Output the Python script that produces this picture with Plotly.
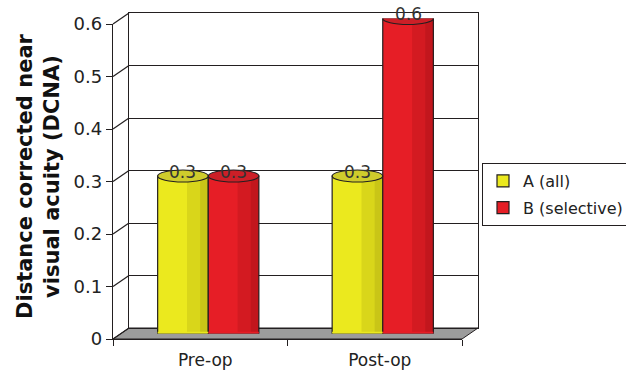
import plotly.graph_objects as go

# ---- data ----
categories = ["Pre-op", "Post-op"]
series_names = ["A (all)", "B (selective)"]
values_a = [0.3, 0.3]
values_b = [0.3, 0.6]
y_ticks = [0, 0.1, 0.2, 0.3, 0.4, 0.5, 0.6]

# ---- styling ----
body_colors = ["#EBE91E", "#E61E26"]
top_colors = ["#CFCC2C", "#CC1F27"]
shade_colors = ["rgba(70,60,0,0.11)", "rgba(70,0,0,0.12)"]
ink = "#231F20"
floor_color = "#9C9C9C"
FONT = "DejaVu Sans"

# ---- geometry of the pseudo-3D box (pixels) ----
W, H = 626, 373
ML, MR, MT, MB = 113, 148, 13, 34
PW = W - ML - MR          # plot area width
PH = H - MT - MB          # plot area height
DX, DY = 16, 11           # depth offset of the back wall
YMAX = y_ticks[-1]
FACE_H = PH - DY          # height of a face in px
PX_PER_UNIT = FACE_H / YMAX


def fx(px):
    return px / PW


def fy(px):
    return px / PH


front_x = [0, fx(PW - DX)]
front_y = [0, fy(PH - DY)]
mid_x = [fx(DX / 2), fx(PW - DX / 2)]
mid_y = [fy(DY / 2), fy(PH - DY / 2)]
back_x = [fx(DX), 1]
back_y = [fy(DY), 1]

n_cat = len(categories)
xrange_ = [-0.5, n_cat - 0.5]
bar_w = 0.29
offsets = [-bar_w, 0.0]
ry = 6 / PX_PER_UNIT      # vertical radius of cylinder ellipses
all_values = [values_a, values_b]

fig = go.Figure()

# empty traces so the back-wall and front-frame subplots get drawn
for xa, ya in (("x", "y"), ("x3", "y3")):
    fig.add_trace(go.Scatter(x=[None], y=[None], xaxis=xa, yaxis=ya,
                             showlegend=False, hoverinfo="skip",
                             mode="markers"))

# cylinder bodies
for s, (name, vals) in enumerate(zip(series_names, all_values)):
    fig.add_trace(go.Bar(
        x=list(range(n_cat)), y=vals, name=name, legendgroup=name,
        width=[bar_w] * n_cat, offset=[offsets[s]] * n_cat,
        marker=dict(color=body_colors[s], line=dict(color=ink, width=1.2)),
        xaxis="x2", yaxis="y2", hoverinfo="skip",
    ))

# darker right-hand shading of each cylinder
for s, vals in enumerate(all_values):
    for frac in (0.42, 0.16):
        fig.add_trace(go.Bar(
            x=list(range(n_cat)), y=vals, showlegend=False,
            width=[bar_w * frac] * n_cat,
            offset=[offsets[s] + bar_w * (1 - frac)] * n_cat,
            marker=dict(color=shade_colors[s], line=dict(width=0)),
            xaxis="x2", yaxis="y2", hoverinfo="skip",
        ))

shapes = []

# floor
shapes.append(dict(
    type="path", xref="paper", yref="paper", layer="below",
    path=(f"M {front_x[0]},{front_y[0]} L {front_x[1]},{front_y[0]} "
          f"L {back_x[1]},{back_y[0]} L {back_x[0]},{back_y[0]} Z"),
    fillcolor=floor_color, line=dict(color=ink, width=1),
))

# left side wall: diagonals joining front ticks to back gridlines
for v in y_ticks:
    yf = front_y[0] + (front_y[1] - front_y[0]) * v / YMAX
    yb = back_y[0] + (back_y[1] - back_y[0]) * v / YMAX
    shapes.append(dict(
        type="line", xref="paper", yref="paper", layer="below",
        x0=front_x[0], y0=yf, x1=back_x[0], y1=yb,
        line=dict(color=ink, width=1.2),
    ))

k = 0.5523
for s, vals in enumerate(all_values):
    for i, v in enumerate(vals):
        xl = i + offsets[s]
        xr = xl + bar_w
        xc = (xl + xr) / 2
        rx = bar_w / 2
        arc = (f"M {xl},0 C {xl},{-k * ry} {xc - k * rx},{-ry} {xc},{-ry} "
               f"C {xc + k * rx},{-ry} {xr},{-k * ry} {xr},0")
        eps = 0.0035
        # rounded bottom of the cylinder
        shapes.append(dict(
            type="path", xref="x2", yref="y2", layer="above",
            path=arc + f" L {xr},{eps} L {xl},{eps} Z",
            fillcolor=body_colors[s], line=dict(width=0),
        ))
        shapes.append(dict(
            type="path", xref="x2", yref="y2", layer="above",
            path=arc, fillcolor="rgba(0,0,0,0)",
            line=dict(color=ink, width=1.2),
        ))
        # elliptical top
        shapes.append(dict(
            type="circle", xref="x2", yref="y2", layer="above",
            x0=xl, x1=xr, y0=v - ry, y1=v + ry,
            fillcolor=top_colors[s], line=dict(color=ink, width=1.2),
        ))

annotations = []
for s, vals in enumerate(all_values):
    for i, v in enumerate(vals):
        annotations.append(dict(
            x=i + offsets[s] + bar_w / 2, y=v, xref="x2", yref="y2",
            text=f"{v:g}", showarrow=False, yshift=4.5,
            font=dict(family=FONT, size=17, color="#333333"),
        ))

annotations.append(dict(
    x=fx(38 - ML), y=0.5, xref="paper", yref="paper",
    text="Distance corrected near<br>visual acuity (DCNA)",
    textangle=-90, showarrow=False, xanchor="center", yanchor="middle",
    font=dict(family=FONT, size=21, color="#111111", weight="bold"),
))

boundaries = [i - 0.5 for i in range(n_cat + 1)]

fig.update_layout(
    width=W, height=H,
    margin=dict(l=ML, r=MR, t=MT, b=MB, autoexpand=False),
    paper_bgcolor="white", plot_bgcolor="rgba(0,0,0,0)",
    barmode="overlay", hovermode=False,
    shapes=shapes, annotations=annotations,
    font=dict(family=FONT, color="#222222"),
    # back wall
    xaxis=dict(domain=back_x, range=xrange_, anchor="y", showgrid=False,
               zeroline=False, showticklabels=False, ticks="",
               showline=True, mirror=True, linecolor=ink, linewidth=1.3),
    yaxis=dict(domain=back_y, range=[0, YMAX], anchor="x", tickvals=y_ticks,
               showticklabels=False, ticks="", showgrid=True, gridcolor=ink,
               gridwidth=1.2, zeroline=False, showline=True, mirror=True,
               linecolor=ink, linewidth=1.3),
    # bars at mid depth
    xaxis2=dict(domain=mid_x, range=xrange_, anchor="y2", visible=False),
    yaxis2=dict(domain=mid_y, range=[0, YMAX], anchor="x2", visible=False),
    # front frame with the visible scales
    xaxis3=dict(domain=front_x, range=xrange_, anchor="y3",
                tickvals=list(range(n_cat)), ticktext=categories, ticks="",
                ticklabelshift=5, ticklabelstandoff=5,
                minor=dict(tickvals=boundaries, ticks="outside", ticklen=6,
                           tickcolor=ink, tickwidth=1.2),
                showgrid=False, zeroline=False, showline=True,
                linecolor=ink, linewidth=1.3,
                tickfont=dict(family=FONT, size=17, color="#222222")),
    yaxis3=dict(domain=front_y, range=[0, YMAX], anchor="x3",
                tickvals=y_ticks, ticks="outside", ticklen=6, tickcolor=ink,
                tickwidth=1.2, showgrid=False, zeroline=False, showline=True,
                linecolor=ink, linewidth=1.3,
                tickfont=dict(family=FONT, size=18, color="#222222")),
    legend=dict(x=fx(482 - ML), y=(339 - 163) / PH, xanchor="left",
                yanchor="top", bordercolor=ink, borderwidth=1,
                bgcolor="white", traceorder="grouped", tracegroupgap=3,
                font=dict(family=FONT, size=16, color="#222222")),
)

fig.write_html("out.html")
